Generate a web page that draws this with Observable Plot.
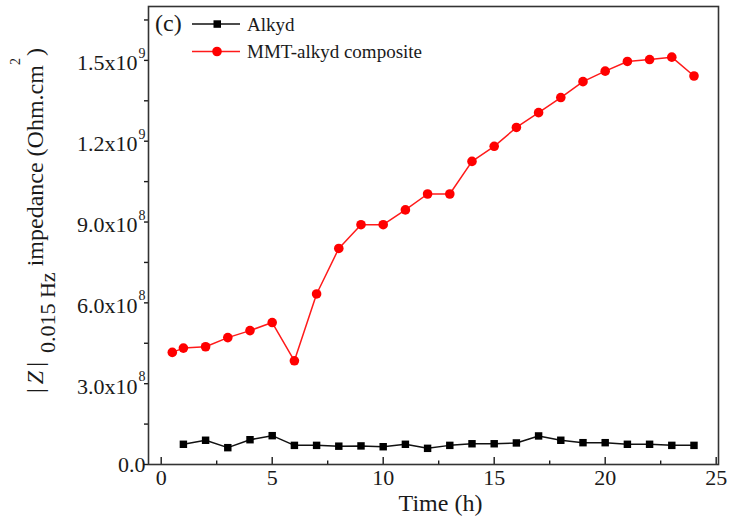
<!DOCTYPE html>
<html><head><meta charset="utf-8">
<script src="https://cdn.jsdelivr.net/npm/d3@7"></script>
<script src="https://cdn.jsdelivr.net/npm/@observablehq/plot@0.6"></script>
<style>body{margin:0;background:#fff} svg{display:block}</style>
</head><body><div id="chart"></div>
<script>
// ---- data ----
const alkydTime = [1,2,3,4,5,6,7,8,9,10,11,12,13,14,15,16,17,18,19,20,21,22,23,24];
const alkydZ = [7.5e7,9.0e7,6.25e7,9.2e7,1.07e8,7.1e7,7.1e7,6.8e7,6.9e7,6.6e7,7.5e7,6.0e7,7.1e7,7.7e7,7.7e7,8.0e7,1.06e8,9.0e7,8.1e7,8.1e7,7.5e7,7.5e7,7.1e7,7.1e7];
const mmtTime = [0.5,1,2,3,4,5,6,7,8,9,10,11,12,13,14,15,16,17,18,19,20,21,22,23,24];
const mmtZ = [4.16e8,4.32e8,4.37e8,4.71e8,4.97e8,5.27e8,3.85e8,6.33e8,8.02e8,8.90e8,8.90e8,9.45e8,1.004e9,1.004e9,1.125e9,1.181e9,1.251e9,1.306e9,1.362e9,1.421e9,1.460e9,1.496e9,1.503e9,1.512e9,1.442e9];
const seriesNames = ["Alkyd", "MMT-alkyd composite"];
const xMajor = [0,5,10,15,20,25];
const xMinor = [2.5,7.5,12.5,17.5,22.5];
const yMajor = [0,3e8,6e8,9e8,1.2e9,1.5e9];
const yMinor = [1.5e8,4.5e8,7.5e8,1.05e9,1.35e9,1.65e9];
const yMantissa = ["0.0","3.0x10","6.0x10","9.0x10","1.2x10","1.5x10"];
const yExponent = ["","8","8","8","9","9"];
const xTitle = "Time (h)";
const panelLabel = "(c)";

const alkyd = alkydTime.map((t,i)=>({t, z: alkydZ[i]}));
const mmt = mmtTime.map((t,i)=>({t, z: mmtZ[i]}));
const yLab = yMajor.map((v,i)=>({v, m: yMantissa[i], e: yExponent[i]}));
const yLabZero = yLab.filter(d=>d.e === "");
const yLabExp = yLab.filter(d=>d.e !== "");

const ink = "#1a1a1a";
const font = "Liberation Serif, Times New Roman, serif";

const chart = Plot.plot({
  width: 731, height: 528,
  marginLeft: 148, marginRight: 13, marginTop: 6, marginBottom: 64,
  style: {fontFamily: font, background: "white", color: ink},
  x: {domain: [-0.572, 25.104], axis: null},
  y: {domain: [0, 1.7e9], axis: null},
  marks: [
    Plot.tickX(xMajor, {x: d=>d, insetTop: 451, stroke: ink, strokeWidth: 1.4}),
    Plot.tickX(xMinor, {x: d=>d, insetTop: 454.5, stroke: ink, strokeWidth: 1.4}),
    Plot.tickY(yMajor.concat(yMinor), {y: d=>d, insetLeft: -4, insetRight: 570, stroke: ink, strokeWidth: 1.4}),
    Plot.text(xMajor, {x: d=>d, frameAnchor: "bottom", text: d=>String(d), lineAnchor: "top", dy: 5, fontSize: 22, fill: ink}),
    Plot.text(yLabZero, {y: "v", frameAnchor: "left", text: "m", textAnchor: "end", dx: -3, fontSize: 22, fill: ink}),
    Plot.text(yLabExp, {y: "v", frameAnchor: "left", text: "m", textAnchor: "end", dx: -11, dy: 3, fontSize: 22, fill: ink}),
    Plot.text(yLabExp, {y: "v", frameAnchor: "left", text: "e", textAnchor: "end", dx: -3, dy: -7, fontSize: 14, fill: ink}),
    Plot.text([xTitle], {frameAnchor: "bottom", text: d=>d, lineAnchor: "top", dx: 7, dy: 29, fontSize: 24, fill: ink}),
    Plot.line(alkyd, {x: "t", y: "z", stroke: "#111", strokeWidth: 1.5}),
    Plot.dot(alkyd, {x: "t", y: "z", symbol: "square", fill: "#000", r: 4.2}),
    Plot.line(mmt, {x: "t", y: "z", stroke: "#ff1a1a", strokeWidth: 1.5}),
    Plot.dot(mmt, {x: "t", y: "z", fill: "#ff0000", r: 4.8}),
    Plot.frame({stroke: "#333", strokeWidth: 1.6})
  ]
});
document.getElementById("chart").appendChild(chart);

const svg = d3.select(chart);
// Y-axis title
const yt = svg.append("text")
  .attr("transform", "translate(43,393) rotate(-90)")
  .attr("font-family", font).attr("font-size", 24).attr("fill", ink)
  .attr("text-anchor", "start");
yt.append("tspan").text("|");
yt.append("tspan").attr("font-style", "italic").attr("dx", 4).text("Z");
yt.append("tspan").attr("dx", 4).text("|");
yt.append("tspan").attr("font-size", 22).attr("dy", 12).attr("dx", 9).text("0.015 Hz");
yt.append("tspan").attr("dy", -12).attr("dx", 6).text("impedance (Ohm.cm");
yt.append("tspan").attr("font-size", 14).attr("dy", -23).text("2");
yt.append("tspan").attr("dy", 23).attr("dx", 2).text(")");

// panel label
svg.append("text").attr("x", 155).attr("y", 31).attr("font-family", font)
  .attr("text-anchor", "start")
  .attr("font-size", 24).attr("fill", ink).text(panelLabel);

// legend
const leg = svg.append("g").attr("font-family", font).attr("font-size", 19).attr("fill", ink).attr("text-anchor", "start");
leg.append("line").attr("x1", 192).attr("x2", 240).attr("y1", 24).attr("y2", 24).attr("stroke", "#111").attr("stroke-width", 1.5);
leg.append("rect").attr("x", 213.5).attr("y", 20.3).attr("width", 7.5).attr("height", 7.5).attr("fill", "#000");
leg.append("text").attr("x", 247).attr("y", 30.5).text(seriesNames[0]);
leg.append("line").attr("x1", 192).attr("x2", 240).attr("y1", 51.5).attr("y2", 51.5).attr("stroke", "#ff1a1a").attr("stroke-width", 1.5);
leg.append("circle").attr("cx", 217).attr("cy", 51.5).attr("r", 4.8).attr("fill", "#ff0000");
leg.append("text").attr("x", 247).attr("y", 58).text(seriesNames[1]);
</script>
</body></html>
